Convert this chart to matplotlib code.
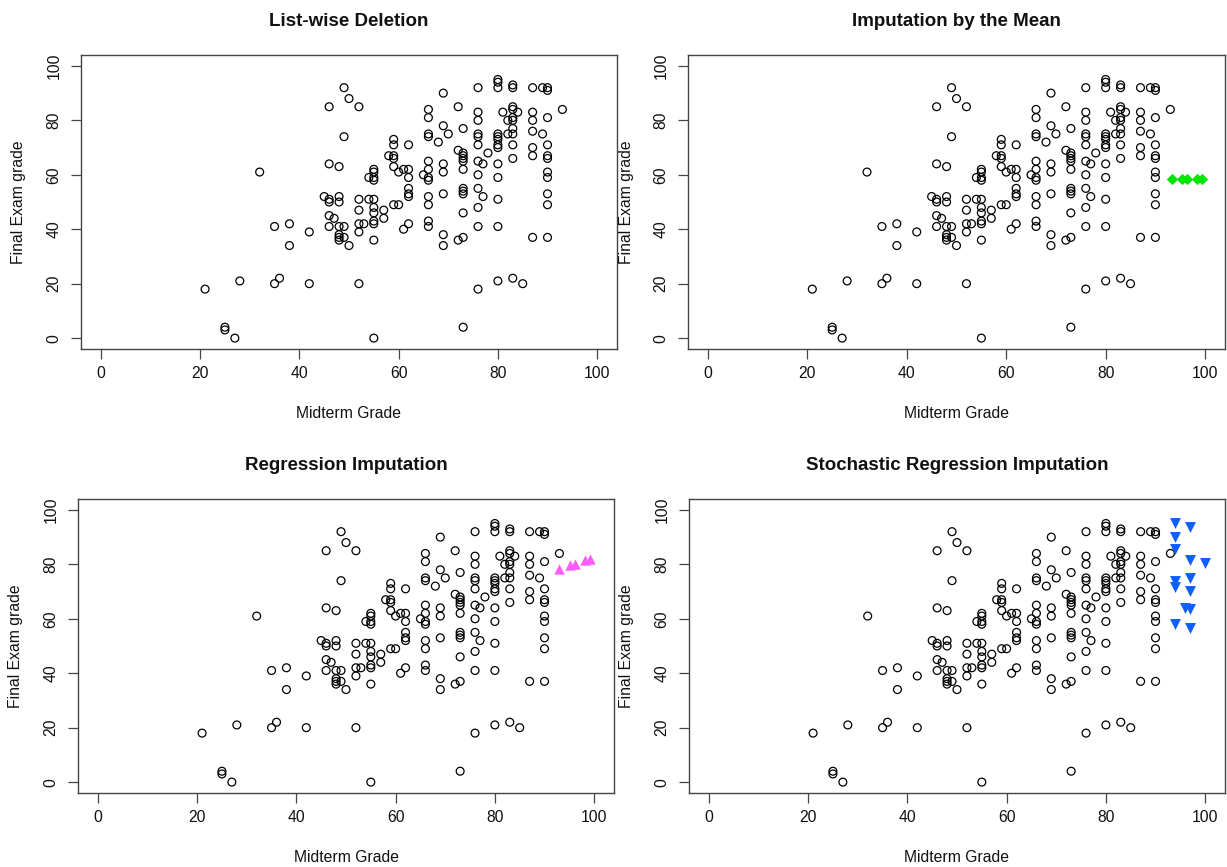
import matplotlib
matplotlib.use("Agg")
import matplotlib.pyplot as plt

plt.rcParams['font.family'] = ['Liberation Sans', 'DejaVu Sans']

# ---------------- data ----------------
midterm = [
    21, 25, 25, 27, 28, 32, 35, 35, 36, 38, 38, 42, 42, 45,
    46, 46, 46, 46, 46, 46, 47,
    48, 48, 48, 48, 48, 48, 48, 49, 49, 49, 49, 50, 50,
    52, 52, 52, 52, 52, 52, 53, 54, 54,
    55, 55, 55, 55, 55, 55, 55, 55, 55, 55, 55,
    57, 57, 58, 59, 59, 59, 59, 59, 59, 60, 60, 61, 61,
    62, 62, 62, 62, 62, 62, 62, 65,
    66, 66, 66, 66, 66, 66, 66, 66, 66, 66, 66, 66,
    68, 69, 69, 69, 69, 69, 69, 69, 70, 72, 72, 72,
    73, 73, 73, 73, 73, 73, 73, 73, 73, 73, 73, 73,
    76, 76, 76, 76, 76, 76, 76, 76, 76, 76, 76, 76, 77, 77, 78,
    80, 80, 80, 80, 80, 80, 80, 80, 80, 80, 80, 80, 80, 81, 82, 82,
    83, 83, 83, 83, 83, 83, 83, 83, 83, 83, 83, 84, 85,
    87, 87, 87, 87, 87, 87, 87, 89, 89,
    90, 90, 90, 90, 90, 90, 90, 90, 90, 90, 90, 93,
]
final = [
    18, 4, 3, 0, 21, 61, 41, 20, 22, 42, 34, 39, 20, 52,
    85, 64, 51, 50, 45, 41, 44,
    63, 52, 50, 41, 38, 37, 36, 92, 74, 41, 37, 88, 34,
    85, 51, 47, 42, 39, 20, 42, 59, 51,
    62, 61, 59, 58, 51, 48, 46, 43, 42, 36, 0,
    47, 44, 67, 73, 71, 67, 66, 63, 49, 61, 49, 62, 40,
    71, 62, 59, 55, 53, 52, 42, 60,
    84, 81, 75, 74, 65, 62, 59, 58, 52, 49, 43, 41,
    72, 90, 78, 64, 61, 53, 38, 34, 75, 85, 69, 36,
    77, 68, 67, 66, 65, 62, 55, 54, 53, 46, 37, 4,
    92, 83, 80, 75, 74, 71, 65, 60, 55, 48, 41, 18, 64, 52, 68,
    95, 94, 92, 75, 74, 73, 71, 70, 64, 59, 51, 41, 21, 83, 80, 75,
    93, 92, 85, 84, 81, 80, 77, 75, 71, 66, 22, 83, 20,
    92, 83, 80, 76, 70, 67, 37, 92, 75,
    92, 91, 81, 71, 67, 66, 61, 59, 53, 49, 37, 84,
]
assert len(midterm) == len(final)

# imputed values
mean_mid = [93.4, 95.4, 96.3, 98.4, 99.3]
mean_final = [58.6, 58.6, 58.6, 58.6, 58.6]

reg_mid = [93.0, 95.2, 96.1, 98.2, 99.2]
reg_final = [78.2, 79.6, 80.3, 81.7, 82.1]

sto_mid = [94, 97, 94, 94, 97, 100, 97, 94, 94, 97, 96, 97, 94, 97]
sto_final = [95.1, 93.8, 90.0, 85.5, 81.6, 80.4, 74.9, 73.9, 71.8, 70.2, 64.1, 63.6, 58.0, 56.5]

titles = ["List-wise Deletion", "Imputation by the Mean",
          "Regression Imputation", "Stochastic Regression Imputation"]
ticks = [0, 20, 40, 60, 80, 100]

# ---------------- layout ----------------
W, H = 1227, 867
fig = plt.figure(figsize=(W / 100, H / 100), dpi=100)

def px_axes(l, t, r, b):
    return fig.add_axes([l / W, 1 - b / H, (r - l) / W, (b - t) / H])

boxes = [(81, 55, 617, 349), (688, 55, 1225, 349),
         (78, 499, 614, 793), (689, 499, 1225, 793)]

frame_col = '#444444'
for i, (box, title) in enumerate(zip(boxes, titles)):
    ax = px_axes(*box)
    ax.scatter(midterm, final, s=32, facecolors='none', edgecolors='black',
               linewidths=0.9, zorder=2)
    if i == 1:
        ax.scatter(mean_mid, mean_final, marker='D', s=33, color='#00e600',
                   linewidths=0, zorder=3)
    elif i == 2:
        ax.scatter(reg_mid, reg_final, marker='^', s=56, color='#ff5cff',
                   linewidths=0, zorder=3)
    elif i == 3:
        ax.scatter(sto_mid, sto_final, marker='v', s=62, color='#0f5fff',
                   linewidths=0, zorder=3)
    ax.set_xlim(-4, 104)
    ax.set_ylim(-4, 104)
    ax.set_xticks(ticks)
    ax.set_yticks(ticks)
    for sp in ax.spines.values():
        sp.set_color(frame_col)
        sp.set_linewidth(1.0)
    ax.tick_params(axis='both', direction='out', length=7, width=0.9,
                   color=frame_col, labelsize=11.3, labelcolor='#111111')
    ax.tick_params(axis='x', pad=5.3)
    ax.tick_params(axis='y', pad=7, labelrotation=90)
    for lab in ax.get_yticklabels():
        lab.set_va('center')
    ax.set_title(title, fontsize=13.5, fontweight='bold', pad=21, color='#111111')
    ax.set_xlabel("Midterm Grade", fontsize=11.3, color='#111111', va='center')
    ax.set_ylabel("Final Exam grade", fontsize=11.3, color='#111111', va='center')
    hgt = box[3] - box[1]
    wid = box[2] - box[0]
    ax.xaxis.set_label_coords(0.5, -65 / hgt)
    ax.yaxis.set_label_coords(-62 / wid, 0.5)

fig.savefig("out.png", dpi=100)
